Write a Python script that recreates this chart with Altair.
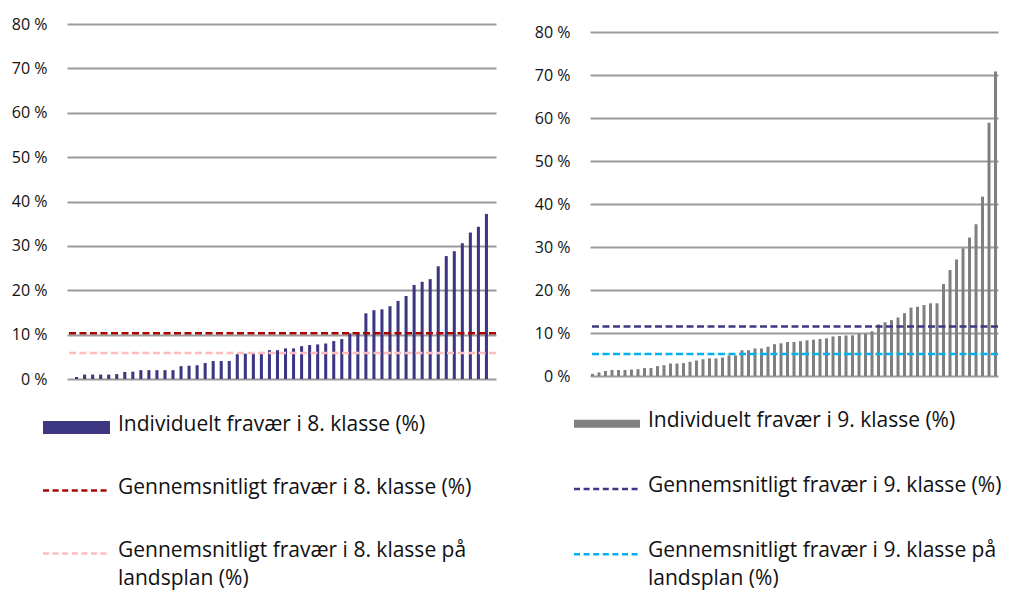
import altair as alt
import pandas as pd

# ---------------- data ----------------
vals8 = [0.45, 1.0, 1.0, 1.0, 1.0, 1.1, 1.6, 1.65, 2.0, 2.0, 2.0, 2.0, 2.0,
         2.9, 3.0, 3.1, 3.6, 4.05, 4.05, 4.05, 5.6, 5.7, 5.8, 6.1, 6.5, 6.5,
         6.9, 6.9, 7.4, 7.65, 7.8, 8.0, 8.55, 9.0, 10.3, 10.6, 14.8, 15.5,
         15.7, 16.4, 17.6, 18.7, 21.2, 21.9, 22.5, 25.4, 27.7, 28.8, 30.6,
         33.0, 34.3, 37.2]
avg8 = 10.3
nat8 = 5.85

vals9 = [0.5, 0.85, 1.15, 1.4, 1.4, 1.4, 1.5, 1.6, 1.85, 1.85, 2.3, 2.5, 2.9,
         2.9, 3.0, 3.3, 3.6, 3.9, 4.1, 4.1, 4.3, 4.8, 4.8, 6.0, 6.0, 6.4, 6.4,
         6.8, 7.4, 7.6, 7.9, 7.9, 8.1, 8.3, 8.45, 8.6, 8.75, 9.2, 9.3, 9.4,
         9.45, 9.85, 9.85, 10.4, 12.0, 12.5, 13.0, 13.6, 14.6, 15.9, 16.1,
         16.5, 16.9, 16.9, 21.4, 24.65, 27.1, 29.7, 32.2, 35.3, 41.7, 58.9,
         70.8]
avg9 = 11.5
nat9 = 5.1

y_ticks = [0, 10, 20, 30, 40, 50, 60, 70, 80]

legend8 = [["Individuelt fravær i 8. klasse (%)"],
           ["Gennemsnitligt fravær i 8. klasse (%)"],
           ["Gennemsnitligt fravær i 8. klasse på", "landsplan (%)"]]
legend9 = [["Individuelt fravær i 9. klasse (%)"],
           ["Gennemsnitligt fravær i 9. klasse (%)"],
           ["Gennemsnitligt fravær i 9. klasse på", "landsplan (%)"]]

colors8 = ["#3D3783", "#A80000", "#FFBDBD"]
colors9 = ["#7F7F7F", "#3D3783", "#00B0F0"]

FONT = "Open Sans"
GRID = "#9B9B9B"


def panel(vals, avg, nat, colors, width, height, top, pad_outer, pad_inner):
    df = pd.DataFrame({"i": list(range(len(vals))), "v": vals})
    yscale = alt.Scale(domain=[0, 80], nice=False, range=[height, top])
    bars = alt.Chart(df).mark_bar(color=colors[0]).encode(
        x=alt.X("i:O", axis=None,
                scale=alt.Scale(paddingInner=pad_inner, paddingOuter=pad_outer)),
        y=alt.Y("v:Q", scale=yscale,
                axis=alt.Axis(values=y_ticks, title=None, grid=True,
                              gridColor=GRID, gridWidth=2, domain=False,
                              ticks=False, labelPadding=20,
                              labelExpr="datum.value + ' %'",
                              labelFont=FONT, labelFontSize=16,
                              labelColor="#111111")),
    )
    layers = [bars]
    for val, col in [(avg, colors[1]), (nat, colors[2])]:
        ldf = pd.DataFrame({"v": [val]})
        layers.append(alt.Chart(ldf).mark_rule(
            strokeWidth=2.5, strokeDash=[7, 3.5], color=col).encode(
            y=alt.Y("v:Q", scale=yscale)))
    return alt.layer(*layers).properties(width=width, height=height)


def legend(labels, colors, sym_x, sym_w, bar_h, text_x, width, height):
    df = pd.DataFrame({"idx": [0, 1, 2], "lab": labels})
    y = alt.Y("idx:O", axis=None, scale=alt.Scale(type="point", padding=0.5,
                                                  domain=[0, 1, 2]))
    layers = []
    for k in range(3):
        sub = alt.Chart(df).transform_filter(f"datum.idx == {k}")
        if k == 0:
            m = sub.mark_rule(strokeWidth=bar_h, color=colors[k])
        else:
            m = sub.mark_rule(strokeWidth=2.5, strokeDash=[6, 3.6], color=colors[k])
        layers.append(m.encode(y=y, x=alt.value(sym_x), x2=alt.value(sym_x + sym_w)))
    txt = alt.Chart(df).mark_text(align="left", baseline="top", dy=-14,
                                  font=FONT, fontSize=21, lineHeight=28,
                                  color="#111111").encode(
        y=y, x=alt.value(text_x), text="lab")
    layers.append(txt)
    return alt.layer(*layers).properties(width=width, height=height)


left = alt.vconcat(
    panel(vals8, avg8, nat8, colors8, 429, 355, 0, 1.0, 0.62),
    legend(legend8, colors8, -24, 67, 13, 51, 400, 189),
    spacing=9,
)
right = alt.vconcat(
    panel(vals9, avg9, nat9, colors9, 408, 352, 8, 0.15, 0.54),
    legend(legend9, colors9, -16, 66, 8, 58, 380, 196),
    spacing=7,
)

chart = alt.hconcat(left, right, spacing=36).configure(
    padding={"left": 3, "top": 8, "right": 0, "bottom": 0},
    background="white",
).configure_view(stroke=None)

chart.save("out.html", embed_options={"renderer": "svg", "actions": False})
